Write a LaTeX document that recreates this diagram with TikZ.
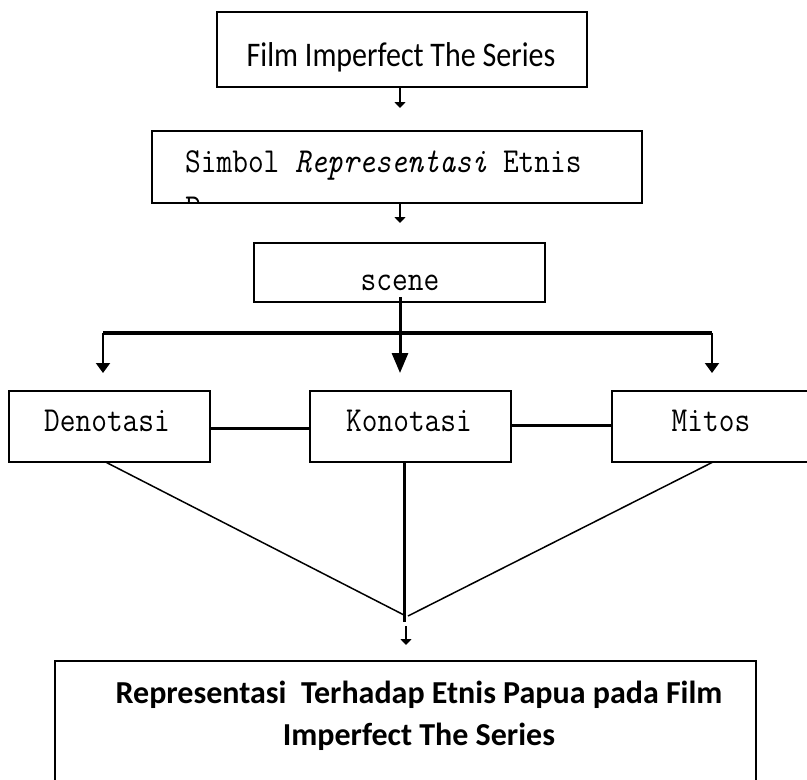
\documentclass[tikz,border=0pt]{standalone}
\usepackage{fontspec}
\usepackage{graphicx}
\setmainfont{Carlito}
\setmonofont{Latin Modern Mono}
\usetikzlibrary{arrows.meta}
\newcommand{\tallt}[1]{\scalebox{1}[1.15]{#1}}
\tikzset{
  box/.style={draw, line width=2pt, inner sep=0pt, outer sep=0pt},
  mono/.style={font=\fontsize{30.5}{36}\selectfont\ttfamily, inner sep=0pt, anchor=base},
  cal/.style={font=\fontsize{30}{36}\selectfont, inner sep=0pt, anchor=base},
  calb/.style={font=\fontsize{32}{38}\selectfont\bfseries, inner sep=0pt, anchor=base},
  arrsmall/.style={line width=2pt, -{Triangle[width=11pt,length=6pt]}},
  arrmid/.style={line width=2pt, -{Triangle[width=14pt,length=10pt]}},
  arrbig/.style={line width=3pt, -{Triangle[width=16pt,length=20pt]}},
  thickline/.style={line width=3.5pt},
  link/.style={line width=3pt},
  diag/.style={line width=1.5pt}
}
\begin{document}
\begin{tikzpicture}[x=1pt,y=-1pt]
\clip (0,0) rectangle (807,780);
\fill[white] (0,0) rectangle (807,780);
% box 1
\node[box, minimum width=370pt, minimum height=75pt] (b1) at (402,49.5) {};
\node[cal] (t1) at (401,66) {\tallt{Film Imperfect The Series}};
\coordinate (a1e) at (400,108);
\draw[arrsmall] (b1.south -| a1e) -- (a1e);
% box 2
\node[box, minimum width=490pt, minimum height=72.5pt] (b2) at (397,166.75) {};
\node[mono, anchor=base west] (t2) at (185,172) {\tallt{Simbol \textit{Representasi} Etnis}};
\begin{scope}
\clip (153,132) rectangle (641,202);
\node[mono, anchor=base west] (t2b) at (185,218) {\tallt{Papua}};
\end{scope}
\coordinate (a2e) at (400,223);
\draw[arrsmall] (b2.south -| a2e) -- (a2e);
% box 3
\node[box, minimum width=291pt, minimum height=59pt] (b3) at (399.5,272.5) {};
\node[mono] (t3) at (400,290) {\tallt{scene}};
% distribution
\coordinate (hl) at (103,333);
\coordinate (hr) at (712,333);
\draw[thickline] (hl) -- (hr);
% row boxes
\node[box, minimum width=201pt, minimum height=71pt] (d) at (109.5,426.5) {};
\node[box, minimum width=201pt, minimum height=71pt] (k) at (410.5,426.5) {};
\node[box, minimum width=201pt, minimum height=71pt] (m) at (712.5,426.5) {};
\node[mono] (td) at (107,431) {\tallt{Denotasi}};
\node[mono] (tk) at (409,431) {\tallt{Konotasi}};
\node[mono] (tm) at (711,431) {\tallt{Mitos}};
\coordinate (ts) at (400,297);
\coordinate (tipy) at (0,373);
\draw[arrbig] (ts) -- (ts |- tipy);
\draw[arrmid] (hl) -- (hl |- tipy);
\draw[arrmid] (hr) -- (hr |- tipy);
% links
\coordinate (l1) at (0,428);
\coordinate (l2) at (0,425);
\draw[link] (d.east |- l1) -- (k.west |- l1);
\draw[link] (k.east |- l2) -- (m.west |- l2);
% convergence
\coordinate (v) at (404,615);
\coordinate (vr) at (408,616);
\coordinate (vb) at (404.5,622);
\coordinate (ds) at (105.5,462);
\coordinate (ms) at (713,462);
\draw[diag] (ds) -- (v);
\draw[diag] (ms) -- (vr);
\draw[link] (k.south -| vb) -- (vb);
% final box
\node[box, minimum width=701pt, minimum height=160pt] (fb) at (405.5,741) {};
\coordinate (a3s) at (406,626);
\draw[arrsmall] (a3s) -- (a3s |- 0,645);
\node[calb] (f1) at (419,703) {Representasi\ \ Terhadap Etnis Papua pada Film};
\node[calb] (f2) at (419,745) {Imperfect The Series};
\end{tikzpicture}
\end{document}
